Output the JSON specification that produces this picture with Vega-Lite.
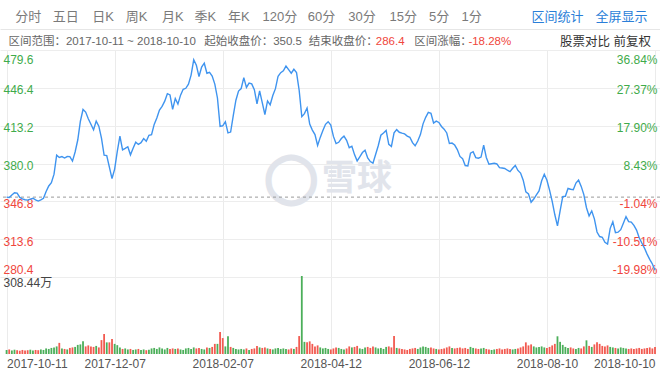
{
"$schema": "https://vega.github.io/schema/vega-lite/v6.json",
"width": 660,
"height": 304,
"autosize": {"type": "none"},
"padding": {"left": 0, "top": 50, "right": 0, "bottom": 22},
"background": "#ffffff",
"config": {
  "view": {"stroke": null},
  "font": "Liberation Sans, Noto Sans CJK SC, sans-serif",
  "axis": {"labelFont": "Liberation Sans, Noto Sans CJK SC, sans-serif", "ticks": false, "tickSize": 0, "domain": false, "labelOverlap": false, "labelBound": false, "labelFlush": false, "labelLimit": 0, "grid": false}
},
"datasets": {"k": [
{"i":0,"c":350.5,"v":16,"d":"u"},{"i":1,"c":350.2,"v":18,"d":"d"},{"i":2,"c":352.3,"v":14,"d":"u"},{"i":3,"c":354.3,"v":17,"d":"u"},{"i":4,"c":354.0,"v":15,"d":"d"},
{"i":5,"c":350.2,"v":13,"d":"d"},{"i":6,"c":349.0,"v":16,"d":"d"},{"i":7,"c":348.2,"v":14,"d":"d"},{"i":8,"c":347.9,"v":15,"d":"d"},{"i":9,"c":348.8,"v":17,"d":"u"},
{"i":10,"c":349.5,"v":14,"d":"u"},{"i":11,"c":348.1,"v":16,"d":"d"},{"i":12,"c":347.0,"v":15,"d":"d"},{"i":13,"c":348.0,"v":18,"d":"u"},{"i":14,"c":349.4,"v":16,"d":"u"},
{"i":15,"c":355.4,"v":22,"d":"u"},{"i":16,"c":360.3,"v":20,"d":"u"},{"i":17,"c":363.2,"v":24,"d":"u"},{"i":18,"c":370.6,"v":26,"d":"u"},{"i":19,"c":387.3,"v":30,"d":"u"},
{"i":20,"c":385.3,"v":44,"d":"d"},{"i":21,"c":386.1,"v":22,"d":"u"},{"i":22,"c":384.8,"v":20,"d":"d"},{"i":23,"c":386.1,"v":18,"d":"u"},{"i":24,"c":386.0,"v":24,"d":"d"},
{"i":25,"c":382.1,"v":26,"d":"d"},{"i":26,"c":390.1,"v":28,"d":"u"},{"i":27,"c":400.6,"v":36,"d":"u"},{"i":28,"c":417.1,"v":38,"d":"u"},{"i":29,"c":427.4,"v":50,"d":"u"},
{"i":30,"c":425.1,"v":30,"d":"d"},{"i":31,"c":419.3,"v":34,"d":"d"},{"i":32,"c":414.5,"v":30,"d":"d"},{"i":33,"c":409.6,"v":28,"d":"d"},{"i":34,"c":417.2,"v":32,"d":"u"},
{"i":35,"c":412.8,"v":26,"d":"d"},{"i":36,"c":402.2,"v":55,"d":"d"},{"i":37,"c":387.3,"v":79,"d":"d"},{"i":38,"c":387.0,"v":46,"d":"u"},{"i":39,"c":376.8,"v":46,"d":"d"},
{"i":40,"c":366.8,"v":59,"d":"d"},{"i":41,"c":375.1,"v":40,"d":"u"},{"i":42,"c":390.7,"v":35,"d":"u"},{"i":43,"c":404.0,"v":26,"d":"u"},{"i":44,"c":392.0,"v":20,"d":"d"},
{"i":45,"c":393.3,"v":22,"d":"u"},{"i":46,"c":394.7,"v":18,"d":"u"},{"i":47,"c":387.6,"v":20,"d":"d"},{"i":48,"c":393.3,"v":16,"d":"u"},{"i":49,"c":398.7,"v":18,"d":"u"},
{"i":50,"c":396.7,"v":20,"d":"d"},{"i":51,"c":398.3,"v":16,"d":"u"},{"i":52,"c":401.9,"v":18,"d":"u"},{"i":53,"c":399.5,"v":15,"d":"d"},{"i":54,"c":404.8,"v":17,"d":"u"},
{"i":55,"c":405.3,"v":22,"d":"u"},{"i":56,"c":414.3,"v":24,"d":"u"},{"i":57,"c":420.0,"v":20,"d":"u"},{"i":58,"c":426.9,"v":26,"d":"u"},{"i":59,"c":430.1,"v":22,"d":"u"},
{"i":60,"c":434.7,"v":18,"d":"u"},{"i":61,"c":441.3,"v":24,"d":"u"},{"i":62,"c":440.2,"v":20,"d":"d"},{"i":63,"c":427.5,"v":22,"d":"d"},{"i":64,"c":437.0,"v":20,"d":"u"},
{"i":65,"c":432.1,"v":22,"d":"d"},{"i":66,"c":440.0,"v":18,"d":"u"},{"i":67,"c":445.1,"v":16,"d":"u"},{"i":68,"c":446.0,"v":22,"d":"u"},{"i":69,"c":449.6,"v":24,"d":"u"},
{"i":70,"c":457.6,"v":20,"d":"u"},{"i":71,"c":471.0,"v":26,"d":"u"},{"i":72,"c":466.2,"v":22,"d":"d"},{"i":73,"c":456.3,"v":24,"d":"d"},{"i":74,"c":464.6,"v":20,"d":"u"},
{"i":75,"c":468.0,"v":18,"d":"u"},{"i":76,"c":459.2,"v":26,"d":"d"},{"i":77,"c":460.0,"v":24,"d":"u"},{"i":78,"c":456.8,"v":28,"d":"d"},{"i":79,"c":449.7,"v":40,"d":"d"},
{"i":80,"c":437.5,"v":40,"d":"u"},{"i":81,"c":412.6,"v":87,"d":"d"},{"i":82,"c":413.1,"v":63,"d":"d"},{"i":83,"c":416.7,"v":30,"d":"u"},{"i":84,"c":406.9,"v":70,"d":"u"},
{"i":85,"c":407.6,"v":28,"d":"d"},{"i":86,"c":422.1,"v":24,"d":"u"},{"i":87,"c":435.5,"v":20,"d":"u"},{"i":88,"c":443.6,"v":18,"d":"u"},{"i":89,"c":445.8,"v":20,"d":"u"},
{"i":90,"c":455.4,"v":18,"d":"u"},{"i":91,"c":446.8,"v":22,"d":"d"},{"i":92,"c":450.6,"v":16,"d":"u"},{"i":93,"c":449.9,"v":20,"d":"d"},{"i":94,"c":444.8,"v":22,"d":"d"},
{"i":95,"c":432.3,"v":32,"d":"d"},{"i":96,"c":443.7,"v":26,"d":"u"},{"i":97,"c":433.4,"v":24,"d":"d"},{"i":98,"c":423.0,"v":26,"d":"d"},{"i":99,"c":434.9,"v":22,"d":"u"},
{"i":100,"c":431.5,"v":20,"d":"d"},{"i":101,"c":439.6,"v":18,"d":"u"},{"i":102,"c":445.7,"v":22,"d":"u"},{"i":103,"c":456.6,"v":24,"d":"u"},{"i":104,"c":459.7,"v":20,"d":"u"},
{"i":105,"c":461.3,"v":22,"d":"u"},{"i":106,"c":465.5,"v":20,"d":"u"},{"i":107,"c":462.4,"v":18,"d":"d"},{"i":108,"c":459.2,"v":22,"d":"d"},{"i":109,"c":462.7,"v":20,"d":"u"},
{"i":110,"c":459.8,"v":28,"d":"d"},{"i":111,"c":444.3,"v":71,"d":"d"},{"i":112,"c":421.1,"v":308.44,"d":"u"},{"i":113,"c":423.8,"v":48,"d":"u"},{"i":114,"c":428.7,"v":46,"d":"d"},
{"i":115,"c":414.6,"v":50,"d":"d"},{"i":116,"c":409.3,"v":40,"d":"d"},{"i":117,"c":405.4,"v":30,"d":"d"},{"i":118,"c":395.9,"v":34,"d":"d"},{"i":119,"c":402.9,"v":26,"d":"u"},
{"i":120,"c":408.9,"v":22,"d":"u"},{"i":121,"c":414.4,"v":24,"d":"u"},{"i":122,"c":416.7,"v":20,"d":"u"},{"i":123,"c":413.8,"v":18,"d":"d"},{"i":124,"c":403.8,"v":22,"d":"d"},
{"i":125,"c":397.5,"v":26,"d":"d"},{"i":126,"c":398.6,"v":24,"d":"u"},{"i":127,"c":401.9,"v":20,"d":"u"},{"i":128,"c":404.0,"v":18,"d":"u"},{"i":129,"c":400.3,"v":22,"d":"d"},
{"i":130,"c":393.9,"v":30,"d":"d"},{"i":131,"c":395.2,"v":26,"d":"u"},{"i":132,"c":387.8,"v":28,"d":"d"},{"i":133,"c":382.3,"v":32,"d":"d"},{"i":134,"c":385.9,"v":22,"d":"u"},
{"i":135,"c":389.6,"v":20,"d":"u"},{"i":136,"c":391.6,"v":26,"d":"u"},{"i":137,"c":384.9,"v":28,"d":"d"},{"i":138,"c":381.7,"v":24,"d":"d"},{"i":139,"c":380.3,"v":30,"d":"d"},
{"i":140,"c":387.9,"v":26,"d":"u"},{"i":141,"c":395.6,"v":22,"d":"u"},{"i":142,"c":404.8,"v":24,"d":"u"},{"i":143,"c":406.8,"v":20,"d":"u"},{"i":144,"c":409.0,"v":28,"d":"u"},
{"i":145,"c":396.8,"v":30,"d":"d"},{"i":146,"c":395.0,"v":26,"d":"d"},{"i":147,"c":406.9,"v":71,"d":"d"},{"i":148,"c":409.7,"v":24,"d":"u"},{"i":149,"c":407.4,"v":22,"d":"d"},
{"i":150,"c":406.6,"v":20,"d":"d"},{"i":151,"c":406.0,"v":18,"d":"d"},{"i":152,"c":404.0,"v":16,"d":"d"},{"i":153,"c":403.0,"v":20,"d":"d"},{"i":154,"c":398.3,"v":22,"d":"d"},
{"i":155,"c":395.6,"v":24,"d":"d"},{"i":156,"c":399.7,"v":20,"d":"u"},{"i":157,"c":405.4,"v":26,"d":"u"},{"i":158,"c":414.8,"v":30,"d":"u"},{"i":159,"c":420.5,"v":28,"d":"u"},
{"i":160,"c":424.9,"v":24,"d":"u"},{"i":161,"c":424.0,"v":26,"d":"d"},{"i":162,"c":415.5,"v":22,"d":"d"},{"i":163,"c":417.2,"v":20,"d":"u"},{"i":164,"c":416.0,"v":18,"d":"d"},
{"i":165,"c":412.5,"v":20,"d":"d"},{"i":166,"c":410.1,"v":22,"d":"d"},{"i":167,"c":406.8,"v":26,"d":"d"},{"i":168,"c":397.5,"v":30,"d":"d"},{"i":169,"c":397.9,"v":24,"d":"u"},
{"i":170,"c":396.2,"v":22,"d":"d"},{"i":171,"c":392.2,"v":24,"d":"d"},{"i":172,"c":386.2,"v":26,"d":"d"},{"i":173,"c":384.3,"v":22,"d":"d"},{"i":174,"c":378.2,"v":24,"d":"d"},
{"i":175,"c":377.8,"v":20,"d":"d"},{"i":176,"c":389.1,"v":28,"d":"u"},{"i":177,"c":390.4,"v":24,"d":"u"},{"i":178,"c":385.2,"v":22,"d":"d"},{"i":179,"c":384.6,"v":20,"d":"d"},
{"i":180,"c":385.6,"v":22,"d":"u"},{"i":181,"c":396.1,"v":24,"d":"u"},{"i":182,"c":385.3,"v":20,"d":"d"},{"i":183,"c":379.3,"v":18,"d":"d"},{"i":184,"c":379.8,"v":16,"d":"u"},
{"i":185,"c":380.2,"v":18,"d":"u"},{"i":186,"c":379.6,"v":20,"d":"d"},{"i":187,"c":376.3,"v":22,"d":"d"},{"i":188,"c":376.0,"v":18,"d":"d"},{"i":189,"c":375.6,"v":20,"d":"d"},
{"i":190,"c":374.1,"v":22,"d":"d"},{"i":191,"c":372.8,"v":20,"d":"d"},{"i":192,"c":375.8,"v":18,"d":"u"},{"i":193,"c":378.3,"v":20,"d":"u"},{"i":194,"c":373.9,"v":22,"d":"d"},
{"i":195,"c":371.6,"v":26,"d":"d"},{"i":196,"c":365.4,"v":30,"d":"d"},{"i":197,"c":355.1,"v":46,"d":"d"},{"i":198,"c":353.3,"v":34,"d":"d"},{"i":199,"c":346.0,"v":38,"d":"d"},
{"i":200,"c":348.8,"v":30,"d":"u"},{"i":201,"c":352.4,"v":26,"d":"u"},{"i":202,"c":356.0,"v":28,"d":"u"},{"i":203,"c":364.8,"v":30,"d":"u"},{"i":204,"c":370.6,"v":26,"d":"u"},
{"i":205,"c":365.3,"v":24,"d":"d"},{"i":206,"c":356.6,"v":28,"d":"d"},{"i":207,"c":346.7,"v":34,"d":"d"},{"i":208,"c":335.0,"v":40,"d":"d"},{"i":209,"c":325.3,"v":70,"d":"u"},
{"i":210,"c":338.5,"v":48,"d":"u"},{"i":211,"c":350.9,"v":36,"d":"u"},{"i":212,"c":351.2,"v":28,"d":"u"},{"i":213,"c":358.1,"v":24,"d":"u"},{"i":214,"c":357.4,"v":26,"d":"d"},
{"i":215,"c":357.0,"v":22,"d":"d"},{"i":216,"c":362.8,"v":20,"d":"u"},{"i":217,"c":365.4,"v":24,"d":"u"},{"i":218,"c":359.9,"v":22,"d":"d"},{"i":219,"c":352.7,"v":30,"d":"d"},
{"i":220,"c":341.2,"v":54,"d":"u"},{"i":221,"c":334.0,"v":32,"d":"d"},{"i":222,"c":338.3,"v":28,"d":"u"},{"i":223,"c":331.4,"v":38,"d":"d"},{"i":224,"c":319.9,"v":46,"d":"d"},
{"i":225,"c":315.9,"v":40,"d":"d"},{"i":226,"c":315.3,"v":32,"d":"d"},{"i":227,"c":310.8,"v":30,"d":"d"},{"i":228,"c":309.3,"v":34,"d":"d"},{"i":229,"c":323.1,"v":28,"d":"u"},
{"i":230,"c":328.8,"v":26,"d":"u"},{"i":231,"c":319.3,"v":24,"d":"d"},{"i":232,"c":319.7,"v":22,"d":"u"},{"i":233,"c":321.9,"v":26,"d":"u"},{"i":234,"c":327.6,"v":24,"d":"u"},
{"i":235,"c":333.4,"v":22,"d":"u"},{"i":236,"c":329.0,"v":20,"d":"d"},{"i":237,"c":328.6,"v":22,"d":"d"},{"i":238,"c":325.7,"v":20,"d":"d"},{"i":239,"c":321.6,"v":22,"d":"d"},
{"i":240,"c":314.9,"v":24,"d":"d"},{"i":241,"c":310.2,"v":20,"d":"d"},{"i":242,"c":305.8,"v":22,"d":"d"},{"i":243,"c":300.5,"v":24,"d":"d"},{"i":244,"c":295.9,"v":26,"d":"d"},
{"i":245,"c":291.8,"v":22,"d":"d"},{"i":246,"c":286.4,"v":28,"d":"d"}
]},
"data": {"name": "k"},
"resolve": {"scale": {"y": "independent"}, "axis": {"x": "independent", "y": "independent"}},
"layer": [
  {
    "data": {"values": [{"t": "◯"}]},
    "mark": {"type": "text", "font": "DejaVu Sans", "fontWeight": "bold", "fontSize": 48, "color": "#e1e4eb", "stroke": "#e1e4eb", "strokeWidth": 3, "dx": -39, "dy": -23},
    "encoding": {"text": {"field": "t"}}
  },
  {
    "data": {"values": [{"t": "雪球"}]},
    "mark": {"type": "text", "font": "Noto Sans CJK SC", "fontWeight": "bold", "fontSize": 35, "color": "#e1e4eb", "dx": 27, "dy": -23},
    "encoding": {"text": {"field": "t"}}
  },
  {
    "mark": {"type": "bar", "size": 1.8},
    "encoding": {
      "x": {"field": "i", "type": "quantitative", "scale": {"domain": [-0.6, 246], "nice": false, "zero": false},
        "axis": {"orient": "bottom", "title": null, "values": [0, 41, 82, 123, 164, 205, 246],
          "labelExpr": "datum.value < 20 ? '2017-10-11' : datum.value < 60 ? '2017-12-07' : datum.value < 100 ? '2018-02-07' : datum.value < 140 ? '2018-04-12' : datum.value < 180 ? '2018-06-12' : datum.value < 220 ? '2018-08-10' : '2018-10-10'",
          "labelAlign": {"condition": [{"test": "datum.value < 1", "value": "left"}, {"test": "datum.value > 245", "value": "right"}], "value": "center"},
          "grid": true, "gridColor": "#ebebeb", "labelPadding": 4, "labelFontSize": 12, "labelColor": "#555555"}},
      "y": {"field": "v", "type": "quantitative", "stack": null, "scale": {"domain": [0, 1202.1], "nice": false, "zero": true},
        "axis": {"orient": "left", "title": null, "values": [308.44], "labelExpr": "'308.44万'", "labelAlign": "left", "labelPadding": -3, "labelBaseline": "top", "labelOffset": 2, "labelFontSize": 12, "labelColor": "#444444"}},
      "color": {"field": "d", "type": "nominal", "scale": {"domain": ["u", "d"], "range": ["#4caf5a", "#f25a50"]}, "legend": null}
    }
  },
  {
    "data": {"values": [{}]},
    "mark": {"type": "rule", "strokeDash": [3, 3], "color": "#9a9a9a", "strokeWidth": 1},
    "encoding": {"y": {"datum": 350.5, "type": "quantitative", "scale": {"domain": [212.83, 479.6], "nice": false, "zero": false}, "axis": null}}
  },
  {
    "mark": {"type": "line", "color": "#3f94ef", "strokeWidth": 1.4},
    "encoding": {
      "x": {"field": "i", "type": "quantitative", "scale": {"domain": [-0.6, 246], "nice": false, "zero": false},
        "axis": {"orient": "top", "title": null, "values": [0.52, 74.76, 114.48, 139.89, 154.46, 175.01, 209.76],
          "labelExpr": "datum.value < 40 ? '区间范围：2017-10-11 ~ 2018-10-10' : datum.value < 95 ? '起始收盘价：350.5' : datum.value < 127 ? '结束收盘价：' : datum.value < 147 ? '286.4' : datum.value < 165 ? '区间涨幅：' : datum.value < 192 ? '-18.28%' : '股票对比 前复权'",
          "labelAlign": "left", "labelBaseline": "middle", "labelPadding": 8.5,
          "labelFontSize": {"condition": {"test": "datum.value > 192", "value": 12.5}, "value": 11.5},
          "labelColor": {"condition": [{"test": "datum.value > 192", "value": "#333333"}, {"test": "datum.value > 130 && datum.value < 147", "value": "#f0463c"}, {"test": "datum.value > 165 && datum.value < 192", "value": "#f0463c"}], "value": "#666666"}}},
      "y": {"field": "c", "type": "quantitative", "scale": {"domain": [212.83, 479.6], "nice": false, "zero": false},
        "axis": {"orient": "left", "title": null, "values": [280.4, 313.6, 346.8, 380, 413.2, 446.4, 479.6], "format": ".1f",
          "grid": true, "gridColor": "#ededed", "labelAlign": "left", "labelPadding": -3, "labelFontSize": 12,
          "labelColor": {"condition": {"test": "datum.value > 350", "value": "#3fab4b"}, "value": "#f0463c"},
          "labelBaseline": {"condition": [{"test": "datum.value > 479", "value": "top"}, {"test": "datum.value < 281", "value": "bottom"}], "value": "middle"},
          "labelOffset": {"condition": [{"test": "datum.value > 479", "value": 4}, {"test": "datum.value < 281", "value": -1}], "value": 2}}}
    }
  },
  {
    "mark": {"type": "line", "opacity": 0},
    "encoding": {
      "x": {"field": "i", "type": "quantitative", "scale": {"domain": [-0.6, 246], "nice": false, "zero": false},
        "axis": {"orient": "top", "title": null, "offset": 21, "domain": true, "domainColor": "#e6e6e6",
          "values": [3.14, 17.33, 32.28, 44.98, 58.81, 71.14, 83.84, 96.92, 114.11, 129.43, 145.12, 160.07, 172.4, 198.92, 223.21],
          "labelExpr": "datum.value < 10 ? '分时' : datum.value < 25 ? '五日' : datum.value < 38 ? '日K' : datum.value < 52 ? '周K' : datum.value < 65 ? '月K' : datum.value < 77 ? '季K' : datum.value < 90 ? '年K' : datum.value < 105 ? '120分' : datum.value < 121 ? '60分' : datum.value < 137 ? '30分' : datum.value < 152 ? '15分' : datum.value < 166 ? '5分' : datum.value < 185 ? '1分' : datum.value < 211 ? '区间统计' : '全屏显示'",
          "labelAlign": "left", "labelBaseline": "middle", "labelPadding": 13, "labelFontSize": 13,
          "labelColor": {"condition": {"test": "datum.value > 190", "value": "#2a7ed8"}, "value": "#7a7a7a"}}},
      "y": {"field": "c", "type": "quantitative", "scale": {"domain": [212.83, 479.6], "nice": false, "zero": false},
        "axis": {"orient": "right", "title": null, "values": [280.4, 313.6, 346.8, 380, 413.2, 446.4, 479.6],
          "labelExpr": "datum.value > 470 ? '36.84%' : datum.value > 440 ? '27.37%' : datum.value > 400 ? '17.90%' : datum.value > 370 ? '8.43%' : datum.value > 340 ? '-1.04%' : datum.value > 300 ? '-10.51%' : '-19.98%'",
          "labelAlign": "right", "labelPadding": -3, "labelFontSize": 12,
          "labelColor": {"condition": {"test": "datum.value > 350", "value": "#3fab4b"}, "value": "#f0463c"},
          "labelBaseline": {"condition": [{"test": "datum.value > 479", "value": "top"}, {"test": "datum.value < 281", "value": "bottom"}], "value": "middle"},
          "labelOffset": {"condition": [{"test": "datum.value > 479", "value": 4}, {"test": "datum.value < 281", "value": -1}], "value": 2}}}
    }
  }
]
}
